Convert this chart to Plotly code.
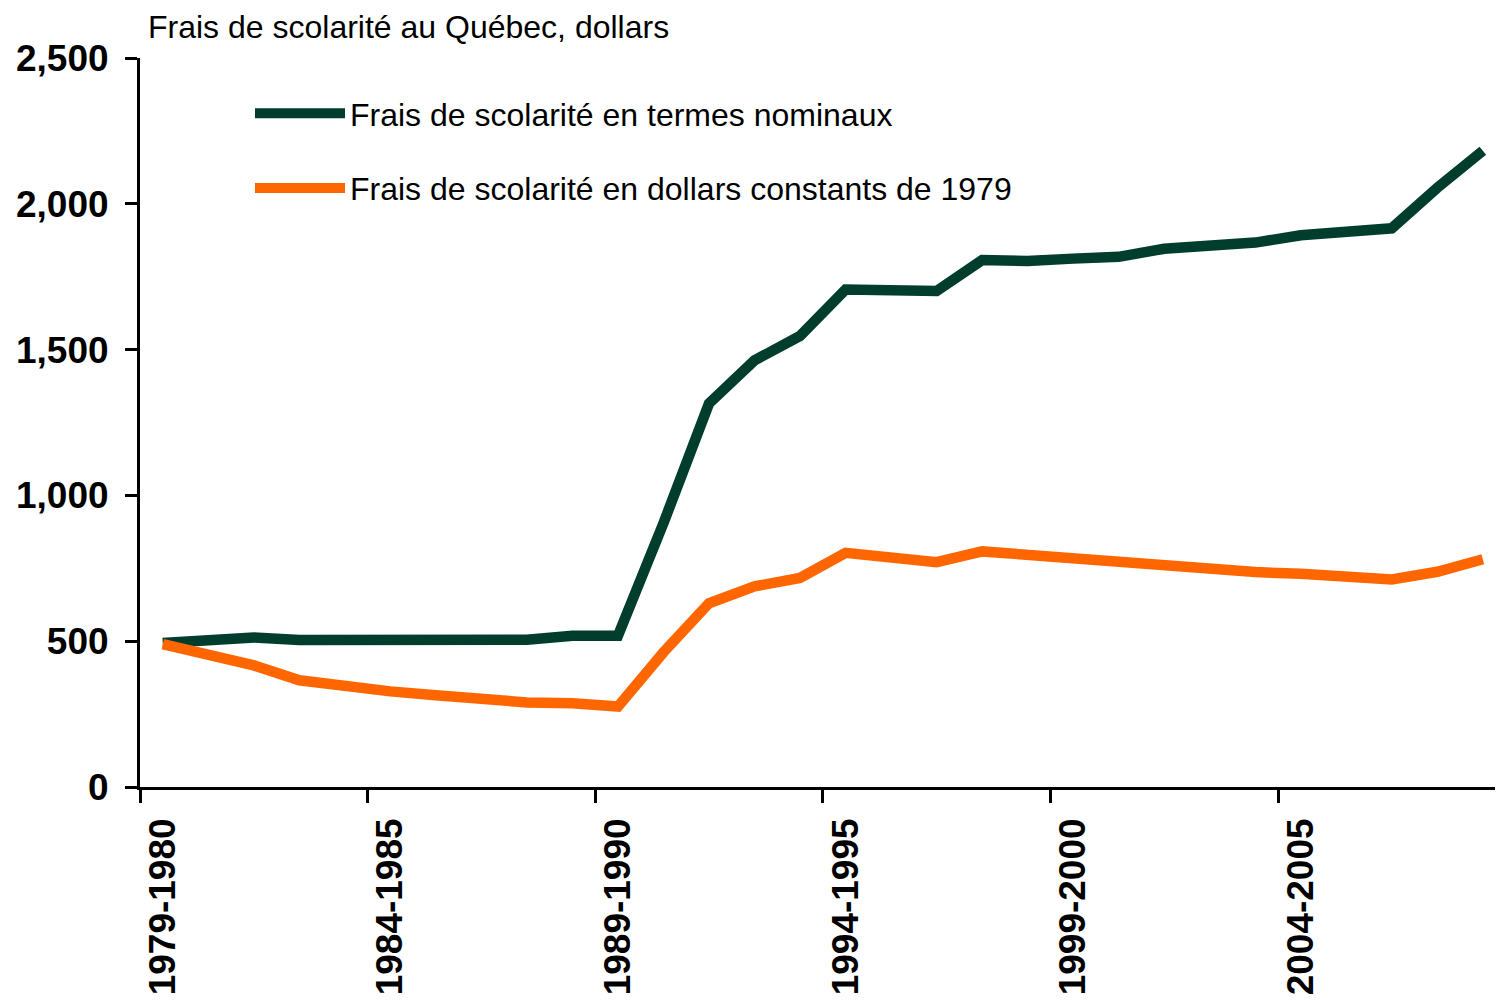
import plotly.graph_objects as go

# ---- data ----
categories = [
    "1979-1980", "1980-1981", "1981-1982", "1982-1983", "1983-1984",
    "1984-1985", "1985-1986", "1986-1987", "1987-1988", "1988-1989",
    "1989-1990", "1990-1991", "1991-1992", "1992-1993", "1993-1994",
    "1994-1995", "1995-1996", "1996-1997", "1997-1998", "1998-1999",
    "1999-2000", "2000-2001", "2001-2002", "2002-2003", "2003-2004",
    "2004-2005", "2005-2006", "2006-2007", "2007-2008", "2008-2009",
]
nominal = [
    494, 506, 513, 504, 503, 503, 503, 505, 505, 519,
    519, 905, 1315, 1463, 1547, 1706, 1703, 1701, 1807, 1804,
    1812, 1818, 1846, 1855, 1867, 1892, 1902, 1916, 2055, 2182,
]
constant_1979 = [
    490, 457, 417, 366, 343, 328, 315, 302, 290, 287,
    276, 462, 630, 688, 717, 803, 785, 771, 808, 796,
    786, 768, 761, 750, 737, 731, 719, 712, 738, 781,
]
series_names = [
    "Frais de scolarité en termes nominaux",
    "Frais de scolarité en dollars constants de 1979",
]
title_text = "Frais de scolarité au Québec, dollars"
y_ticks = [0, 500, 1000, 1500, 2000, 2500]
label_step = 5

idx = list(range(len(categories)))
label_idx = idx[::label_step]
label_txt = [categories[i] for i in label_idx]
boundaries = [i - 0.5 for i in range(0, len(categories) + 1, label_step)]

# page has an 8px body margin -> figure is drawn 8px inside the window
OFF = 8
W, H = 1503 - OFF, 1001 - OFF
L, R, T, B = 140 - OFF, 0, 58 - OFF, 214
PW, PH = W - L - R, H - T - B
unit = 45.52
xrange_ = [-0.5, -0.5 + PW / unit]

font_fam = "Arial, Liberation Sans, sans-serif"

fig = go.Figure()
fig.add_trace(go.Scatter(
    x=idx, y=nominal, name=series_names[0], mode="lines",
    line=dict(color="#003d2c", width=10.5),
    text=categories, hovertemplate="%{text}: %{y}<extra></extra>",
    xaxis="x", yaxis="y", legendgroup="a",
))
fig.add_trace(go.Scatter(
    x=idx, y=constant_1979, name=series_names[1], mode="lines",
    line=dict(color="#ff6600", width=10.5),
    text=categories, hovertemplate="%{text}: %{y}<extra></extra>",
    xaxis="x2", yaxis="y", legendgroup="b",
))

fig.update_layout(
    width=W, height=H,
    margin=dict(l=L, r=R, t=T, b=B, pad=0),
    paper_bgcolor="white", plot_bgcolor="white",
    font=dict(family=font_fam, color="black"),
    title=dict(
        text=title_text, x=(148 - OFF) / W, xanchor="left", xref="container",
        y=1 - (26.5 - OFF) / H, yanchor="middle", yref="container",
        font=dict(size=32, family=font_fam, color="black"),
    ),
    showlegend=True,
    legend=dict(
        x=(250 - OFF - L) / PW, xanchor="left",
        y=1 - (86 - OFF - T) / PH, yanchor="top",
        traceorder="grouped", tracegroupgap=30,
        itemwidth=90,
        font=dict(size=32, family=font_fam, color="black"),
        bgcolor="rgba(0,0,0,0)", borderwidth=0,
    ),
    xaxis=dict(
        type="linear", range=xrange_,
        tickmode="array", tickvals=boundaries,
        ticks="outside", ticklen=13, tickwidth=3, tickcolor="black",
        showticklabels=False,
        showline=True, linewidth=3, linecolor="black",
        showgrid=False, zeroline=False,
    ),
    xaxis2=dict(
        type="linear", range=xrange_, overlaying="x", anchor="y", side="bottom",
        tickmode="array", tickvals=label_idx, ticktext=label_txt,
        ticks="", tickangle=-90, ticklabelstandoff=23,
        tickfont=dict(size=37, family=font_fam, color="black", weight="bold"),
        showline=False, showgrid=False, zeroline=False,
    ),
    yaxis=dict(
        range=[0, 2500], tickmode="array", tickvals=y_ticks, tickformat=",",
        ticks="outside", ticklen=12, tickwidth=3, tickcolor="black",
        ticklabelstandoff=9,
        tickfont=dict(size=37, family=font_fam, color="black", weight="bold"),
        showline=True, linewidth=3, linecolor="black",
        showgrid=False, zeroline=False,
    ),
)

fig.write_html("out.html")
